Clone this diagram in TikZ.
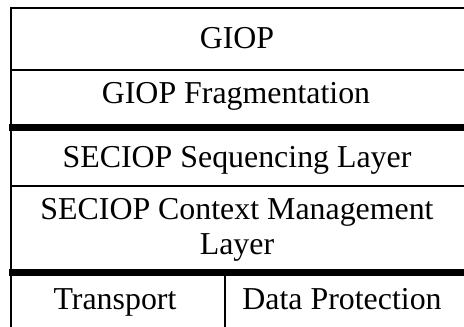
\documentclass[tikz,border=0pt]{standalone}
\usepackage{fontspec}
\setmainfont{Liberation Serif}
\begin{document}
\begin{tikzpicture}[x=1bp,y=-1bp,
  thinrule/.style={line width=2bp,line cap=butt},
  thickrule/.style={line width=7.5bp,line cap=butt},
  lbl/.style={anchor=base,inner sep=0pt,font=\fontsize{32}{35}\selectfont,align=center}]
\useasboundingbox (0,0) rectangle (464,326);
% frame and rules
\draw[thinrule] (11,6.5) -- (11,330);
\draw[thinrule] (10,7.5) -- (470,7.5);
\draw[thinrule] (11,70) -- (470,70);
\draw[thickrule] (9,127.5) -- (470,127.5);
\draw[thinrule] (11,186) -- (470,186);
\draw[thickrule] (9,272.5) -- (470,272.5);
\draw[thinrule] (225,272) -- (225,330);
% labels
\node[lbl] (giop) at (237,48) {GIOP};
\node[lbl] (frag) at (236,103.3) {GIOP Fragmentation};
\node[lbl] (seq) at (237,167) {SECIOP Sequencing Layer};
\node[lbl] (ctx1) at (237,219.7) {SECIOP Context Management};
\node[lbl] (ctx2) at (237,254.7) {Layer};
\node[lbl] (trans) at (115,309.7) {Transport};
\node[lbl] (prot) at (342,309.7) {Data Protection};
\end{tikzpicture}
\end{document}
